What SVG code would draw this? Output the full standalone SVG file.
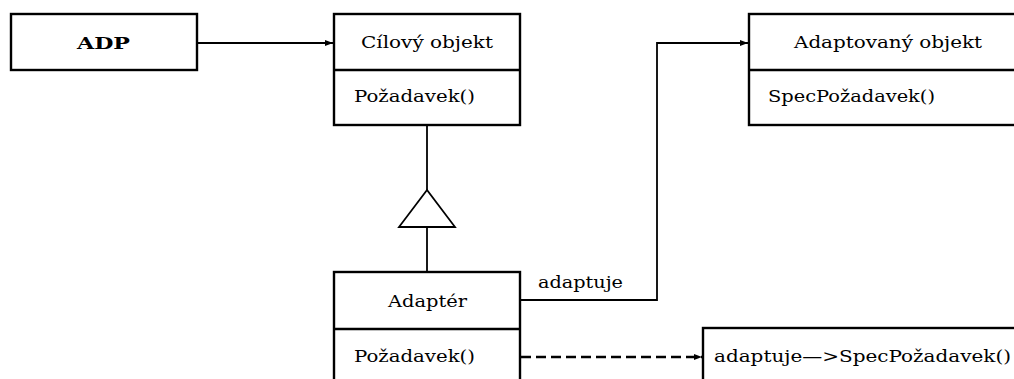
<svg xmlns="http://www.w3.org/2000/svg" width="1014" height="379" viewBox="0 0 1014 379">
  <style>
    .box { fill: #fff; stroke: #000; stroke-width: 2.4; }
    .sep { stroke: #000; stroke-width: 2.4; }
    .edge { fill: none; stroke: #000; stroke-width: 1.8; }
    .dash { stroke-dasharray: 10 5; stroke-width: 2.4; }
    text { font-family: 'DejaVu Serif', 'Liberation Serif', serif; font-size: 17px; fill: #000; }
    .bold { font-weight: bold; }
  </style>
  <defs>
    <marker id="arrow" viewBox="0 0 8 6" refX="8" refY="3" markerWidth="8" markerHeight="6" markerUnits="userSpaceOnUse" orient="auto">
      <path d="M0,0 L8,3 L0,6 z" fill="#000"/>
    </marker>
  </defs>

  <!-- connectors -->
  <g id="connectors">
    <path class="edge" d="M197,43 H333" marker-end="url(#arrow)"/>
    <path class="edge" d="M520,300 H657 V43 H748" marker-end="url(#arrow)"/>
    <path class="edge dash" d="M521,357 H702" marker-end="url(#arrow)"/>
    <!-- generalisation: Adapter -> Target -->
    <path class="edge" d="M427,125 V190"/>
    <path class="edge" d="M427,227 V272"/>
    <path d="M427,190 L399,227 L455,227 z" fill="#fff" stroke="#000" stroke-width="1.8"/>
    <text x="538" y="288" textLength="85" lengthAdjust="spacingAndGlyphs">adaptuje</text>
  </g>

  <g id="adp">
    <rect class="box" x="11" y="14" width="186" height="56"/>
    <text class="bold" x="77" y="49" textLength="53" lengthAdjust="spacingAndGlyphs">ADP</text>
  </g>

  <g id="cilovy-objekt">
    <rect class="box" x="334" y="14" width="186" height="111"/>
    <line class="sep" x1="334" y1="70" x2="520" y2="70"/>
    <text x="361" y="48" textLength="132" lengthAdjust="spacingAndGlyphs">Cílový objekt</text>
    <text x="354" y="102" textLength="121" lengthAdjust="spacingAndGlyphs">Požadavek()</text>
  </g>

  <g id="adaptovany-objekt">
    <rect class="box" x="749" y="14" width="280" height="111"/>
    <line class="sep" x1="749" y1="70" x2="1029" y2="70"/>
    <text x="794" y="48" textLength="188" lengthAdjust="spacingAndGlyphs">Adaptovaný objekt</text>
    <text x="768" y="102" textLength="167" lengthAdjust="spacingAndGlyphs">SpecPožadavek()</text>
  </g>

  <g id="adapter">
    <rect class="box" x="334" y="272" width="186" height="120"/>
    <line class="sep" x1="334" y1="329" x2="520" y2="329"/>
    <text x="388" y="307" textLength="79" lengthAdjust="spacingAndGlyphs">Adaptér</text>
    <text x="354" y="362" textLength="121" lengthAdjust="spacingAndGlyphs">Požadavek()</text>
  </g>

  <g id="poznamka">
    <rect class="box" x="703" y="328" width="330" height="70"/>
    <text x="714" y="362" textLength="297" lengthAdjust="spacingAndGlyphs">adaptuje—&gt;SpecPožadavek()</text>
  </g>
</svg>
